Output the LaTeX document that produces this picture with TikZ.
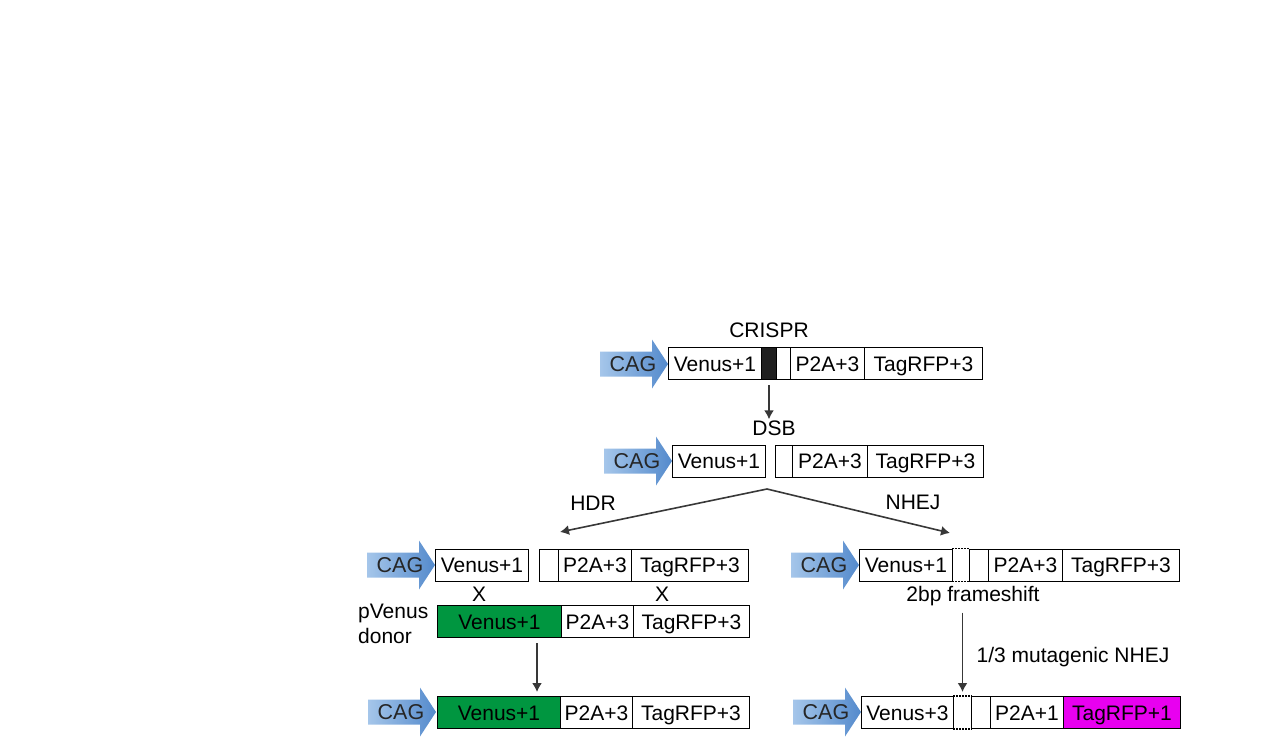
\documentclass[tikz,border=0pt]{standalone}
\usepackage{fontspec}
\setmainfont{Liberation Sans}
\usetikzlibrary{positioning, arrows.meta}

\definecolor{cagL}{RGB}{165,198,234}
\definecolor{cagR}{RGB}{84,138,204}
\definecolor{venusgreen}{RGB}{0,150,64}
\definecolor{rfpmag}{RGB}{232,0,240}
\definecolor{arrgray}{RGB}{56,56,56}

\newcommand{\cagarrow}[3]{%
  \shade[left color=cagL, right color=cagR] (#2-68,#3-12.5) -- (#2-16,#3-12.5) -- (#2-16,#3-24.5) -- (#2,#3)
    -- (#2-16,#3+24.5) -- (#2-16,#3+12.5) -- (#2-68,#3+12.5) -- cycle;
  \node[cagtxt] (#1) at (#2-35,#3) {CAG};}

\begin{document}
\begin{tikzpicture}[x=1pt, y=-1pt,
    every node/.style={font=\fontsize{21}{25}\selectfont, inner sep=1pt},
    lbl/.style={text height=15pt, text depth=0pt},
    cell/.style={draw, line width=1pt, minimum height=32pt, inner sep=0pt, anchor=west, text height=15pt, text depth=0pt},
    cagtxt/.style={font=\fontsize{21.5}{24}\selectfont, text=black!85, inner sep=0pt, text height=15.5pt, text depth=0pt},
    gapline/.style={line width=1.3pt, dash pattern=on 1.5pt off 1.5pt},
    flow/.style={arrgray, line width=1.6pt, -{Latex[length=9pt,width=10pt]}}]
    \useasboundingbox (0,0) rectangle (1280,753);

    \cagarrow{c1}{668}{364}
    \foreach \n/\x/\w/\t in {v/668/93/Venus+1, e/776/14/, p/790/74/P2A+3, t/864/118/TagRFP+3} {
        \node[cell, minimum width=\w pt] (a\n) at (\x,363.5) {\t};
    }
    \node[cell, fill=black!88, minimum width=15pt] (ak) at (761,363.5) {};
    \node[lbl] (crispr) [above=8pt of ak] {CRISPR};
    \node[lbl] (dsb) at (774,428) {DSB};
    \draw[flow] ([yshift=-5pt]ak.south) -- (ak.south |- dsb.north);

    \cagarrow{c2}{672}{461}
    \foreach \n/\x/\w/\t in {v/672/93/Venus+1, e/775/17/, p/792/75/P2A+3, t/867/116/TagRFP+3} {
        \node[cell, minimum width=\w pt] (b\n) at (\x,461) {\t};
    }
    \coordinate (split) at (767,489);
    \coordinate (hdr) at (560,532);
    \coordinate (nhej) at (950,533);
    \draw[flow] (split) -- (hdr);
    \draw[flow] (split) -- (nhej);
    \node[lbl] (hdrlbl) at (593,503) {HDR};
    \node[lbl] (nhejlbl) at (913,502) {NHEJ};

    \cagarrow{c3}{435}{565}
    \foreach \n/\x/\w/\t in {v/435/93/Venus+1, e/539/19/, p/558/73/P2A+3, t/631/117/TagRFP+3} {
        \node[cell, minimum width=\w pt] (l\n) at (\x,565) {\t};
    }
    \node[lbl] (x1) at (479,594) {X};
    \node[lbl] (x2) at (662,594) {X};
    \node[align=left, anchor=west] (donor) at (357,624) {pVenus\\donor};
    \node[cell, fill=venusgreen, minimum width=124pt] (dg) at (437,621.5) {Venus+1};
    \foreach \n/\x/\w/\t in {p/561/72/P2A+3, t/633/116/TagRFP+3} {
        \node[cell, minimum width=\w pt] (d\n) at (\x,621.5) {\t};
    }

    \node[cell, fill=venusgreen, minimum width=123pt] (fg) at (437,712.5) {Venus+1};
    \foreach \n/\x/\w/\t in {p/560/72/P2A+3, t/632/117/TagRFP+3} {
        \node[cell, minimum width=\w pt] (f\n) at (\x,712.5) {\t};
    }
    \cagarrow{c4}{436}{712}
    \draw[flow] ([xshift=-25pt,yshift=-5pt]dg.south east) -- ([xshift=-24pt,yshift=4pt]fg.north east);

    \cagarrow{c5}{859}{565}
    \foreach \n/\x/\w/\t in {v/859/93/Venus+1, e/969/19/, p/988/74/P2A+3, t/1062/117/TagRFP+3} {
        \node[cell, minimum width=\w pt] (n\n) at (\x,565) {\t};
    }
    \node[cell, draw=none, minimum width=17pt] (nd) at (952,565) {};
    \draw[gapline] (nd.north west) -- (nd.north east) (nd.south west) -- (nd.south east);
    \node[lbl] (shift) at (973,594) {2bp frameshift};
    \node[lbl] (muta) at (1073,655) {1/3 mutagenic NHEJ};

    \cagarrow{c6}{861}{712}
    \foreach \n/\x/\w/\t in {v/861/92/Venus+3, e/971/19/, p/990/73/P2A+1} {
        \node[cell, minimum width=\w pt] (m\n) at (\x,712.5) {\t};
    }
    \node[cell, fill=rfpmag, minimum width=117pt] (mt) at (1063,712.5) {TagRFP+1};
    \node[cell, draw=none, minimum width=18pt] (md) at (953,712.5) {};
    \draw[gapline] (md.north west) -- (md.north east) (md.south west) -- (md.south east);
    \draw[flow] ([yshift=-10pt]md.north |- shift.south) -- ([yshift=4pt]md.north);
\end{tikzpicture}
\end{document}
